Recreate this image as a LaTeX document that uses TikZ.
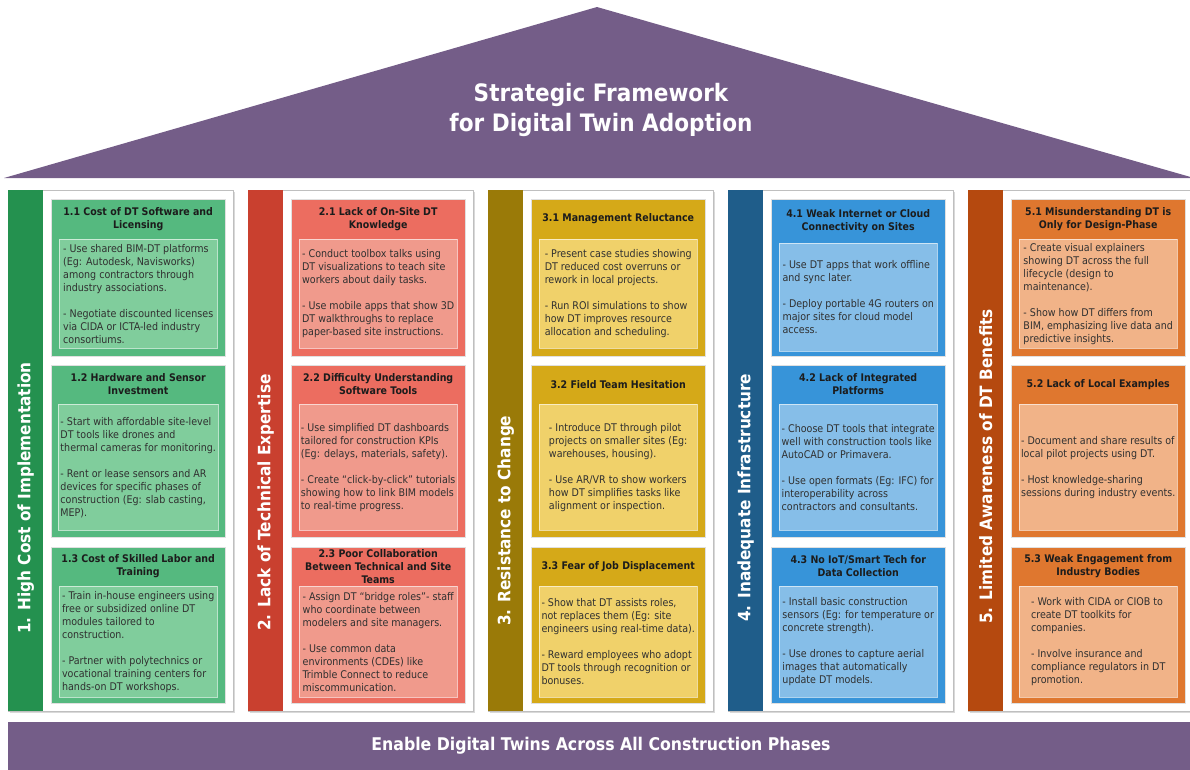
\documentclass[tikz,border=0pt]{standalone}
\usepackage{fontspec}
\setmainfont{DejaVu Sans Condensed}
\usetikzlibrary{positioning,calc,shadows}
\definecolor{roof}{HTML}{745D88}
\definecolor{ink}{HTML}{1C1C1C}
\definecolor{body}{HTML}{303030}
\definecolor{greenbar}{HTML}{24914F}
\definecolor{greencard}{HTML}{55B97F}
\definecolor{greentip}{HTML}{80CD9C}
\definecolor{redbar}{HTML}{C9402F}
\definecolor{redcard}{HTML}{EC6D60}
\definecolor{redtip}{HTML}{F09A8C}
\definecolor{goldbar}{HTML}{9A7A08}
\definecolor{goldcard}{HTML}{D5A918}
\definecolor{goldtip}{HTML}{F0D16A}
\definecolor{bluebar}{HTML}{1F5D8A}
\definecolor{bluecard}{HTML}{3794D9}
\definecolor{bluetip}{HTML}{86BEE8}
\definecolor{orangebar}{HTML}{B5490F}
\definecolor{orangecard}{HTML}{DF772F}
\definecolor{orangetip}{HTML}{F1B388}

\begin{document}
\begin{tikzpicture}[
  x=1pt, y=-1pt,
  frame/.style={draw=black!25, fill=white, line width=0.8pt, anchor=north west, inner sep=0pt,
    minimum width=225pt, minimum height=521pt,
    drop shadow={opacity=0.3, shadow xshift=1.2pt, shadow yshift=-1.2pt}},
  pillar/.style={anchor=north west, inner sep=0pt, minimum width=35pt, minimum height=521pt},
  pillartext/.style={rotate=90, anchor=west, text=white, font=\bfseries\fontsize{17}{20}\selectfont},
  card/.style={anchor=north west, inner sep=0pt, minimum width=174pt, draw=black!12},
  cardtitle/.style={align=center, text=ink, font=\bfseries\fontsize{10.5}{13}\selectfont},
  tips/.style={draw=white, draw opacity=0.6, inner sep=2pt, minimum width=158pt, align=left,
    text=body, font=\fontsize{10.6}{13}\selectfont},
  banner/.style={fill=roof, text=white, inner sep=0pt, font=\bfseries\fontsize{17.5}{20}\selectfont}
]
  \useasboundingbox (0,0) rectangle (1190,769);
  \clip (0,0) rectangle (1190,769);

  % roof
  \coordinate (eaveL) at (4,178);
  \coordinate (ridge) at (597,7);
  \coordinate (eaveR) at (1194,178);
  \fill[roof] (eaveL) -- (ridge) -- (eaveR) -- cycle;
  \node[text=white, align=center, font=\bfseries\fontsize{24}{30}\selectfont] (title) at (601,110)
    {Strategic Framework\\for Digital Twin Adoption};

  % pillar 1
  \node[frame] (f1) at (8,190) {};
  \node[pillar, fill=greenbar] (p1) at (8,190) {};
  \node[pillartext] (t1) at ([yshift=74pt]p1.south) {1. High Cost of Implementation};

  \node[card, fill=greencard, minimum height=157pt] (c11) at (51,199) {};
  \node[tips, fill=greentip, minimum height=109pt, below=40pt of c11.north] (b11)
    {- Use shared BIM-DT platforms\\(Eg: Autodesk, Navisworks)\\among contractors through\\industry associations.\\[13pt]
     - Negotiate discounted licenses\\via CIDA or ICTA-led industry\\consortiums.};
  \node[cardtitle] (h11) at ($(c11.north)!.5!(b11.north)$) {1.1 Cost of DT Software and\\Licensing};

  \node[card, fill=greencard, minimum height=172pt] (c12) at (51,365) {};
  \node[tips, fill=greentip, minimum height=126pt, below=39pt of c12.north] (b12)
    {- Start with affordable site-level\\DT tools like drones and\\thermal cameras for monitoring.\\[13pt]
     - Rent or lease sensors and AR\\devices for specific phases of\\construction (Eg: slab casting,\\MEP).};
  \node[cardtitle] (h12) at ($(c12.north)!.5!(b12.north)$) {1.2 Hardware and Sensor\\Investment};

  \node[card, fill=greencard, minimum height=156pt] (c13) at (51,547) {};
  \node[tips, fill=greentip, minimum height=111pt, below=39pt of c13.north] (b13)
    {- Train in-house engineers using\\free or subsidized online DT\\modules tailored to\\construction.\\[13pt]
     - Partner with polytechnics or\\vocational training centers for\\hands-on DT workshops.};
  \node[cardtitle] (h13) at ($(c13.north)!.5!(b13.north)$) {1.3 Cost of Skilled Labor and\\Training};

  % pillar 2
  \node[frame] (f2) at (248,190) {};
  \node[pillar, fill=redbar] (p2) at (248,190) {};
  \node[pillartext] (t2) at ([yshift=77pt]p2.south) {2. Lack of Technical Expertise};

  \node[card, fill=redcard, minimum height=157pt] (c21) at (291,199) {};
  \node[tips, fill=redtip, minimum height=109pt, below=40pt of c21.north] (b21)
    {- Conduct toolbox talks using\\DT visualizations to teach site\\workers about daily tasks.\\[13pt]
     - Use mobile apps that show 3D\\DT walkthroughs to replace\\paper-based site instructions.};
  \node[cardtitle] (h21) at ($(c21.north)!.5!(b21.north)$) {2.1 Lack of On-Site DT\\Knowledge};

  \node[card, fill=redcard, minimum height=172pt] (c22) at (291,365) {};
  \node[tips, fill=redtip, minimum height=126pt, below=39pt of c22.north] (b22)
    {- Use simplified DT dashboards\\tailored for construction KPIs\\(Eg: delays, materials, safety).\\[13pt]
     - Create “click-by-click” tutorials\\showing how to link BIM models\\to real-time progress.};
  \node[cardtitle] (h22) at ($(c22.north)!.5!(b22.north)$) {2.2 Difficulty Understanding\\Software Tools};

  \node[card, fill=redcard, minimum height=156pt] (c23) at (291,547) {};
  \node[tips, fill=redtip, minimum height=111pt, below=39pt of c23.north] (b23)
    {- Assign DT “bridge roles”- staff\\who coordinate between\\modelers and site managers.\\[13pt]
     - Use common data\\environments (CDEs) like\\Trimble Connect to reduce\\miscommunication.};
  \node[cardtitle] (h23) at ($(c23.north)!.5!(b23.north)$) {2.3 Poor Collaboration\\Between Technical and Site\\Teams};

  % pillar 3
  \node[frame] (f3) at (488,190) {};
  \node[pillar, fill=goldbar] (p3) at (488,190) {};
  \node[pillartext] (t3) at ([yshift=82pt]p3.south) {3. Resistance to Change};

  \node[card, fill=goldcard, minimum height=157pt] (c31) at (531,199) {};
  \node[tips, fill=goldtip, minimum height=109pt, below=40pt of c31.north] (b31)
    {- Present case studies showing\\DT reduced cost overruns or\\rework in local projects.\\[13pt]
     - Run ROI simulations to show\\how DT improves resource\\allocation and scheduling.};
  \node[cardtitle] (h31) at ($(c31.north)!.5!(b31.north)$) {3.1 Management Reluctance};

  \node[card, fill=goldcard, minimum height=172pt] (c32) at (531,365) {};
  \node[tips, fill=goldtip, minimum height=126pt, below=39pt of c32.north] (b32)
    {- Introduce DT through pilot\\projects on smaller sites (Eg:\\warehouses, housing).\\[13pt]
     - Use AR/VR to show workers\\how DT simplifies tasks like\\alignment or inspection.};
  \node[cardtitle] (h32) at ($(c32.north)!.5!(b32.north)$) {3.2 Field Team Hesitation};

  \node[card, fill=goldcard, minimum height=156pt] (c33) at (531,547) {};
  \node[tips, fill=goldtip, minimum height=111pt, below=39pt of c33.north] (b33)
    {- Show that DT assists roles,\\not replaces them (Eg: site\\engineers using real-time data).\\[13pt]
     - Reward employees who adopt\\DT tools through recognition or\\bonuses.};
  \node[cardtitle] (h33) at ($(c33.north)!.5!(b33.north)$) {3.3 Fear of Job Displacement};

  % pillar 4
  \node[frame] (f4) at (728,190) {};
  \node[pillar, fill=bluebar] (p4) at (728,190) {};
  \node[pillartext] (t4) at ([yshift=86pt]p4.south) {4. Inadequate Infrastructure};

  \node[card, fill=bluecard, minimum height=157pt] (c41) at (771,199) {};
  \node[tips, fill=bluetip, minimum height=108pt, below=44pt of c41.north] (b41)
    {- Use DT apps that work offline\\and sync later.\\[13pt]
     - Deploy portable 4G routers on\\major sites for cloud model\\access.};
  \node[cardtitle] (h41) at ($(c41.north)!.5!(b41.north)$) {4.1 Weak Internet or Cloud\\Connectivity on Sites};

  \node[card, fill=bluecard, minimum height=172pt] (c42) at (771,365) {};
  \node[tips, fill=bluetip, minimum height=126pt, below=39pt of c42.north] (b42)
    {- Choose DT tools that integrate\\well with construction tools like\\AutoCAD or Primavera.\\[13pt]
     - Use open formats (Eg: IFC) for\\interoperability across\\contractors and consultants.};
  \node[cardtitle] (h42) at ($(c42.north)!.5!(b42.north)$) {4.2 Lack of Integrated\\Platforms};

  \node[card, fill=bluecard, minimum height=156pt] (c43) at (771,547) {};
  \node[tips, fill=bluetip, minimum height=111pt, below=39pt of c43.north] (b43)
    {- Install basic construction\\sensors (Eg: for temperature or\\concrete strength).\\[13pt]
     - Use drones to capture aerial\\images that automatically\\update DT models.};
  \node[cardtitle] (h43) at ($(c43.north)!.5!(b43.north)$) {4.3 No IoT/Smart Tech for\\Data Collection};

  % pillar 5
  \node[frame] (f5) at (968,190) {};
  \node[pillar, fill=orangebar] (p5) at (968,190) {};
  \node[pillartext] (t5) at ([yshift=84pt]p5.south) {5. Limited Awareness of DT Benefits};

  \node[card, fill=orangecard, minimum height=157pt] (c51) at (1011,199) {};
  \node[tips, fill=orangetip, minimum height=109pt, below=40pt of c51.north] (b51)
    {- Create visual explainers\\showing DT across the full\\lifecycle (design to\\maintenance).\\[13pt]
     - Show how DT differs from\\BIM, emphasizing live data and\\predictive insights.};
  \node[cardtitle] (h51) at ($(c51.north)!.5!(b51.north)$) {5.1 Misunderstanding DT is\\Only for Design-Phase};

  \node[card, fill=orangecard, minimum height=172pt] (c52) at (1011,365) {};
  \node[tips, fill=orangetip, minimum height=126pt, below=39pt of c52.north] (b52)
    {- Document and share results of\\local pilot projects using DT.\\[13pt]
     - Host knowledge-sharing\\sessions during industry events.};
  \node[cardtitle] (h52) at ($(c52.north)!.5!(b52.north)$) {5.2 Lack of Local Examples};

  \node[card, fill=orangecard, minimum height=156pt] (c53) at (1011,547) {};
  \node[tips, fill=orangetip, minimum height=111pt, below=39pt of c53.north] (b53)
    {- Work with CIDA or CIOB to\\create DT toolkits for\\companies.\\[13pt]
     - Involve insurance and\\compliance regulators in DT\\promotion.};
  \node[cardtitle] (h53) at ($(c53.north)!.5!(b53.north)$) {5.3 Weak Engagement from\\Industry Bodies};

  % foundation
  \node[banner, minimum width=1186pt, minimum height=49pt] (base) at (601,746)
    {Enable Digital Twins Across All Construction Phases};
\end{tikzpicture}
\end{document}
